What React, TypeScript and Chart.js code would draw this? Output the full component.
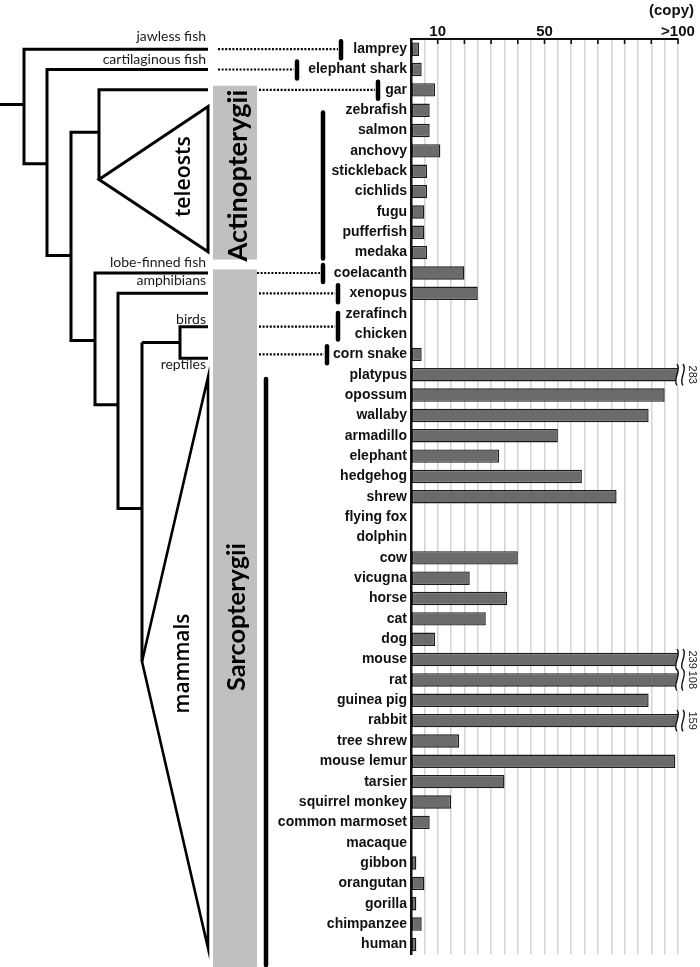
import React, { useEffect, useRef } from "react";
import { Chart, registerables } from "chart.js";

Chart.register(...registerables);

const species = [
  "lamprey", "elephant shark", "gar", "zebrafish", "salmon", "anchovy", "stickleback",
  "cichlids", "fugu", "pufferfish", "medaka", "coelacanth", "xenopus", "zerafinch",
  "chicken", "corn snake", "platypus", "opossum", "wallaby", "armadillo", "elephant",
  "hedgehog", "shrew", "flying fox", "dolphin", "cow", "vicugna", "horse", "cat", "dog",
  "mouse", "rat", "guinea pig", "rabbit", "tree shrew", "mouse lemur", "tarsier",
  "squirrel monkey", "common marmoset", "macaque", "gibbon", "orangutan", "gorilla",
  "chimpanzee", "human",
];

const copies = [
  3, 4, 9, 7, 7, 11, 6,
  6, 5, 5, 6, 20, 25, 0,
  0, 4, 283, 95, 89, 55, 33,
  64, 77, 0, 0, 40, 22, 36, 28, 9,
  239, 108, 89, 159, 18, 99, 35,
  15, 7, 0, 2, 5, 2,
  4, 2,
];

const tickValues = [10, 50, 100];
const tickLabels = ["10", "50", ">100"];
const axisTitle = "(copy)";

const cladeLabels = ["jawless fish", "cartilaginous fish", "lobe-finned fish", "amphibians", "birds", "reptiles"];
const groupLabels = ["teleosts", "mammals", "Actinopterygii", "Sarcopterygii"];

const treePlugin = {
  id: "tree",
  afterDraw(chart: any) {
    const ctx: CanvasRenderingContext2D = chart.ctx;
    const ys = chart.scales.y;
    const xs = chart.scales.x;
    const Y = (px: number) => ys.getPixelForValue((px - 48) / 20.6);
    const R = (i: number) => ys.getPixelForValue(i);

    ctx.save();

    // grey clade boxes
    ctx.fillStyle = "#c0c0c0";
    ctx.fillRect(213, Y(85), 44, Y(261) - Y(85));
    ctx.fillRect(213, Y(271), 44, chart.height - Y(271));

    // tree branches
    ctx.strokeStyle = "#000";
    ctx.lineWidth = 3;
    ctx.lineJoin = "miter";
    ctx.lineCap = "butt";
    const poly = (pts: number[][], close = false) => {
      ctx.beginPath();
      ctx.moveTo(pts[0][0], pts[0][1]);
      for (let k = 1; k < pts.length; k++) ctx.lineTo(pts[k][0], pts[k][1]);
      if (close) ctx.closePath();
      ctx.stroke();
    };
    poly([[0, Y(104)], [24, Y(104)]]);
    poly([[208, R(0)], [24, R(0)], [24, Y(164)], [47, Y(164)]]);
    poly([[208, R(1)], [47, R(1)], [47, Y(257)], [71, Y(257)]]);
    poly([[99, Y(132)], [71, Y(132)], [71, Y(343)], [95, Y(343)]]);
    poly([[208, R(2)], [99, R(2)], [99, Y(180)]]);
    poly([[99, Y(180)], [208, Y(106)], [208, Y(253)]], true);
    poly([[208, R(11)], [95, R(11)], [95, Y(408)], [118, Y(408)]]);
    poly([[208, R(12)], [118, R(12)], [118, Y(513)], [142, Y(513)]]);
    poly([[142, Y(345)], [180, Y(345)]]);
    poly([[208, Y(329)], [180, Y(329)], [180, Y(361)], [208, Y(361)]]);
    poly([[142, Y(345)], [142, Y(668)]]);
    ctx.lineWidth = 2.6;
    poly([[142, Y(668)], [208, Y(380)], [208, Y(958)]], true);

    // clade labels
    ctx.fillStyle = "#1a1a1a";
    ctx.font = "14px Lato";
    ctx.textAlign = "right";
    ctx.textBaseline = "alphabetic";
    ctx.fillText(cladeLabels[0], 206, R(0) - 8);
    ctx.fillText(cladeLabels[1], 206, R(1) - 6);
    ctx.fillText(cladeLabels[2], 206, R(11) - 6);
    ctx.fillText(cladeLabels[3], 206, R(12) - 8);
    ctx.fillText(cladeLabels[4], 206, Y(329) - 3);
    ctx.fillText(cladeLabels[5], 206, Y(361) + 11);

    // rotated group labels, sized to a target length
    const rot = (text: string, cx: number, cy: number, weight: string, family: string, target: number) => {
      ctx.save();
      ctx.font = `${weight} 20px ${family}`;
      const w = ctx.measureText(text).width;
      const size = (20 * target) / w;
      ctx.font = `${weight} ${size.toFixed(2)}px ${family}`;
      ctx.translate(cx, cy);
      ctx.rotate(-Math.PI / 2);
      ctx.fillStyle = "#000";
      ctx.textAlign = "center";
      ctx.textBaseline = "middle";
      ctx.fillText(text, 0, 0);
      ctx.restore();
    };
    rot(groupLabels[0], 184, Y(177), "600", "'Open Sans'", 81);
    rot(groupLabels[1], 183, Y(670), "600", "'Open Sans'", 100);
    rot(groupLabels[2], 238, Y(176), "bold", "Lato", 172);
    rot(groupLabels[3], 237, Y(623), "bold", "Lato", 148);

    // dotted connectors
    ctx.lineWidth = 2.2;
    ctx.setLineDash([2, 1.6]);
    const dot = (x1: number, x2: number, y: number) => {
      ctx.beginPath();
      ctx.moveTo(x1, y);
      ctx.lineTo(x2, y);
      ctx.stroke();
    };
    dot(218, 338, R(0));
    dot(218, 294, R(1));
    dot(259, 375, R(2));
    dot(257, 320, R(11));
    dot(259, 335, R(12));
    dot(259, 335, Y(329));
    dot(259, 324, R(15));
    ctx.setLineDash([]);

    // species group markers
    ctx.lineWidth = 4.5;
    ctx.lineCap = "round";
    const vbar = (x: number, y1: number, y2: number) => {
      ctx.beginPath();
      ctx.moveTo(x, y1);
      ctx.lineTo(x, y2);
      ctx.stroke();
    };
    vbar(341, R(0) - 8, R(0) + 9);
    vbar(297, R(1) - 8, R(1) + 9);
    vbar(378, R(2) - 8, R(2) + 9);
    vbar(323, Y(112), Y(260));
    vbar(323, R(11) - 8, R(11) + 9);
    vbar(338, R(12) - 8, R(12) + 9);
    vbar(338, Y(315), Y(342));
    vbar(327, R(15) - 8, R(15) + 9);
    vbar(266, Y(382), chart.height - 2);
    ctx.lineCap = "butt";

    // top axis tick marks
    ctx.strokeStyle = "#111";
    ctx.lineWidth = 1.6;
    for (let v = 10; v <= xs.max; v += 10) {
      const x = xs.getPixelForValue(v);
      ctx.beginPath();
      ctx.moveTo(x, chart.chartArea.top);
      ctx.lineTo(x, chart.chartArea.top + 5);
      ctx.stroke();
    }

    // axis title
    ctx.fillStyle = "#111";
    ctx.font = "bold 15px 'Liberation Sans'";
    ctx.textAlign = "right";
    ctx.textBaseline = "middle";
    ctx.fillText(axisTitle, 694, 11);

    // breaks for values beyond the axis
    const meta = chart.getDatasetMeta(0);
    copies.forEach((v, i) => {
      if (v <= xs.max) return;
      const el = meta.data[i];
      const x0 = xs.right;
      const top = el.y - el.height / 2 - 4;
      const bot = el.y + el.height / 2 + 4;
      const h = bot - top;
      const curve = (x: number) => {
        ctx.moveTo(x, top);
        ctx.bezierCurveTo(x + 5, top + h * 0.3, x - 5, top + h * 0.7, x, bot);
      };
      ctx.beginPath();
      ctx.moveTo(x0 - 1, top);
      ctx.bezierCurveTo(x0 + 4, top + h * 0.3, x0 - 6, top + h * 0.7, x0 - 1, bot);
      ctx.lineTo(x0 + 5, bot);
      ctx.bezierCurveTo(x0, top + h * 0.7, x0 + 10, top + h * 0.3, x0 + 5, top);
      ctx.closePath();
      ctx.fillStyle = "#fff";
      ctx.fill();
      ctx.beginPath();
      curve(x0 - 1);
      curve(x0 + 5);
      ctx.strokeStyle = "#111";
      ctx.lineWidth = 1.4;
      ctx.stroke();
      ctx.save();
      ctx.translate(x0 + 14, el.y);
      ctx.rotate(Math.PI / 2);
      ctx.fillStyle = "#222";
      ctx.font = "11px 'Liberation Sans'";
      ctx.textAlign = "center";
      ctx.textBaseline = "middle";
      ctx.fillText(String(v), 0, 0);
      ctx.restore();
    });

    ctx.restore();
  },
};

export default function App() {
  const ref = useRef<HTMLCanvasElement>(null);
  useEffect(() => {
    if (!ref.current) return;
    const chart = new Chart(ref.current, {
      type: "bar",
      data: {
        labels: species,
        datasets: [
          {
            data: copies,
            backgroundColor: "#6b6b6b",
            borderColor: "#1a1a1a",
            borderWidth: 1.4,
            borderSkipped: false,
            barPercentage: 0.66,
            categoryPercentage: 1,
          },
        ],
      },
      options: {
        indexAxis: "y",
        responsive: false,
        animation: false,
        devicePixelRatio: 1,
        layout: { padding: { top: 0, right: 22, bottom: 2, left: 0 } },
        plugins: { legend: { display: false }, tooltip: { enabled: false } },
        scales: {
          x: {
            position: "top",
            min: 0,
            max: 100,
            afterFit: (s: any) => {
              s.height = 39;
            },
            ticks: {
              stepSize: 5,
              autoSkip: false,
              maxRotation: 0,
              padding: 0,
              color: "#111",
              font: { family: "'Liberation Sans'", weight: "bold", size: 15, lineHeight: 1 },
              callback: (v: any) => {
                const k = tickValues.indexOf(Number(v));
                return k >= 0 ? tickLabels[k] : "";
              },
            },
            grid: { color: "#d4d4d4", lineWidth: 1.5, drawTicks: false },
            border: { display: true, color: "#111", width: 2 },
          },
          y: {
            afterFit: (s: any) => {
              s.width = 411;
            },
            ticks: {
              autoSkip: false,
              padding: 4,
              color: "#111",
              font: { family: "'Liberation Sans'", weight: "bold", size: 14 },
            },
            grid: { display: false, drawTicks: false },
            border: { display: true, color: "#111", width: 2.5 },
          },
        },
      } as any,
      plugins: [treePlugin],
    });
    return () => chart.destroy();
  }, []);
  return (
    <div style={{ position: "absolute", left: 0, top: 0, width: 700, height: 967, background: "#fff" }}>
      <canvas ref={ref} width={700} height={967} style={{ display: "block", width: 700, height: 967 }} />
    </div>
  );
}
